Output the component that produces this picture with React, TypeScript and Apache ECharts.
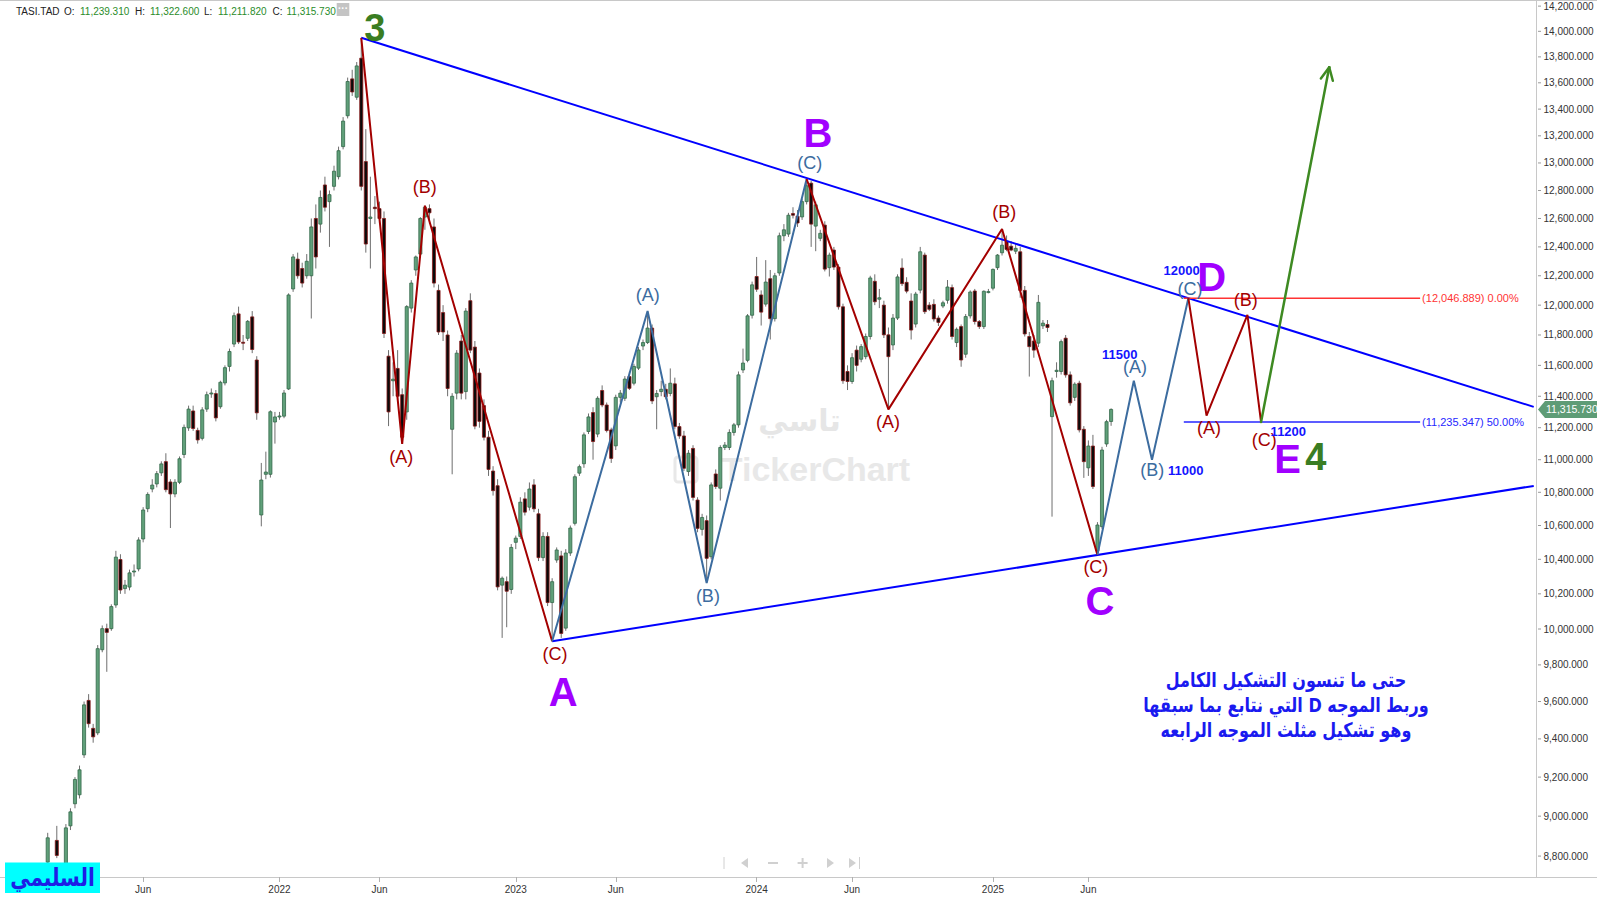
import React, { useEffect, useRef } from "react";
import * as echarts from "echarts";

// ---------- categories (weekly) ----------
const WEEK_COUNT = 338;
const FIRST_WEEK_UTC = Date.UTC(2020, 10, 1);
const LAST_DATA_INDEX = 244;
const weekDates: string[] = [];
for (let i = 0; i < WEEK_COUNT; i++) {
  weekDates.push(new Date(FIRST_WEEK_UTC + i * 7 * 86400000).toISOString().slice(0, 10));
}

// ---------- weekly candles: [weekIndex, open, high, low, close] ----------
const candles2021 = [
  [10, 8770, 8916, 8740, 8891], [12, 8878, 8951, 8790, 8803], [14, 8740, 8960, 8720, 8941],
  [15, 8951, 9040, 8930, 9022], [16, 9063, 9200, 9040, 9188], [17, 9109, 9260, 9090, 9238],
  [18, 9316, 9600, 9300, 9582], [19, 9606, 9640, 9460, 9481], [20, 9456, 9480, 9380, 9411],
  [21, 9432, 9910, 9420, 9890], [22, 9884, 10020, 9870, 10002], [23, 10002, 10030, 9762, 9981],
  [24, 10002, 10140, 9990, 10127], [25, 10136, 10450, 10120, 10413], [26, 10399, 10430, 10200, 10222],
  [27, 10230, 10280, 10200, 10250], [28, 10239, 10340, 10220, 10321], [29, 10328, 10370, 10300, 10332],
  [30, 10344, 10530, 10330, 10514], [31, 10520, 10710, 10500, 10693], [32, 10701, 10800, 10680, 10787],
  [33, 10820, 10880, 10800, 10844], [34, 10851, 10930, 10830, 10914], [35, 10919, 10990, 10900, 10974],
  [36, 10988, 11040, 10800, 10816], [37, 10863, 10880, 10585, 10790], [38, 10790, 10880, 10770, 10861],
  [39, 10861, 11020, 10850, 11006], [40, 11032, 11220, 11010, 11202], [41, 11199, 11340, 11180, 11318],
  [42, 11306, 11340, 11180, 11195], [43, 11183, 11200, 11100, 11123], [44, 11133, 11330, 11120, 11313],
  [45, 11318, 11430, 11300, 11410], [46, 11418, 11450, 11390, 11421], [47, 11417, 11440, 11240, 11262],
  [48, 11333, 11500, 11320, 11490], [49, 11486, 11600, 11470, 11585], [50, 11593, 11710, 11560, 11691],
  [51, 11740, 11950, 11720, 11929], [52, 11941, 11990, 11740, 11754], [53, 11752, 11800, 11700, 11749],
  [54, 11778, 11900, 11760, 11891], [55, 11921, 11960, 11680, 11704], [56, 11635, 11660, 11250, 11294],
  [57, 10663, 10980, 10595, 10875], [58, 10910, 11050, 10880, 10924], [59, 10910, 11310, 10890, 11301],
  [60, 11236, 11300, 11100, 11268], [61, 11270, 11300, 11250, 11274],
];
const candles2022 = [
  [62, 11273, 11440, 11260, 11421], [63, 11447, 12080, 11440, 12069], [64, 12110, 12350, 12090, 12330],
  [65, 12315, 12360, 12180, 12200], [66, 12250, 12290, 12120, 12150], [67, 12200, 12350, 12180, 12300],
  [68, 12200, 12600, 11910, 12540], [69, 12600, 12700, 12250, 12330], [70, 12560, 12800, 12500, 12750],
  [71, 12840, 12900, 12650, 12680], [72, 12720, 12800, 12400, 12770], [73, 12830, 12980, 12800, 12940],
  [74, 12900, 13120, 12880, 13090], [75, 13120, 13340, 13100, 13310], [76, 13350, 13640, 13330, 13610],
  [77, 13630, 13700, 13500, 13530], [78, 13490, 13760, 13470, 13730], [79, 13790, 13949, 12800, 12830],
  [80, 13010, 13250, 12360, 12420], [81, 12600, 12900, 12250, 12610], [82, 12680, 12760, 12560, 12670],
  [83, 12670, 12720, 12560, 12600], [84, 12600, 12650, 11780, 11810], [85, 11660, 11700, 11210, 11300],
  [86, 11500, 11620, 11400, 11510], [87, 11580, 11700, 11380, 11400], [88, 11410, 11450, 11098, 11140],
  [89, 11300, 12000, 11250, 11990], [90, 11980, 12170, 11950, 12150], [91, 12240, 12340, 12200, 12330],
  [92, 12350, 12610, 12330, 12600], [93, 12610, 12691, 12520, 12680], [94, 12670, 12700, 12560, 12640],
  [95, 12540, 12600, 12120, 12150], [96, 12100, 12140, 11800, 11820], [97, 11950, 12000, 11760, 11820],
  [98, 11800, 11830, 11400, 11450], [99, 11190, 11420, 10910, 11400], [100, 11420, 11700, 11380, 11680],
  [101, 11760, 11800, 11380, 11420], [102, 11430, 11980, 11380, 11960], [103, 12030, 12080, 11680, 11700],
  [104, 11720, 11760, 11190, 11210], [105, 11550, 11580, 11200, 11240], [106, 11340, 11380, 11120, 11140],
  [107, 11140, 11180, 10900, 10940], [108, 10930, 10960, 10780, 10810], [109, 10840, 10880, 10220, 10240],
  [110, 10250, 10300, 9950, 10290], [111, 10270, 10300, 10010, 10215], [112, 10225, 10490, 10200, 10470],
];
const candles2023 = [
  [113, 10500, 10540, 10460, 10525], [114, 10535, 10770, 10520, 10740], [115, 10760, 10800, 10660, 10680],
  [116, 10710, 10860, 10690, 10820], [117, 10845, 10880, 10680, 10700], [118, 10670, 10700, 10390, 10410],
  [119, 10410, 10560, 10390, 10535], [120, 10535, 10560, 10130, 10150], [121, 10150, 10290, 9931, 10270],
  [122, 10396, 10470, 10380, 10455], [123, 10420, 10450, 9950, 9975], [124, 10005, 10460, 9990, 10437],
  [125, 10437, 10600, 10420, 10585], [126, 10613, 10910, 10600, 10895], [127, 10917, 10970, 10900, 10957],
  [128, 10975, 11170, 10950, 11155], [129, 11176, 11290, 11160, 11268], [130, 11296, 11330, 11000, 11113],
  [131, 11160, 11400, 11140, 11387], [132, 11437, 11470, 11330, 11344], [133, 11344, 11360, 11170, 11182],
  [134, 11186, 11200, 10980, 11008], [135, 11086, 11410, 11060, 11393], [136, 11393, 11440, 11360, 11420],
  [137, 11387, 11530, 11370, 11511], [138, 11527, 11560, 11440, 11451], [139, 11484, 11610, 11470, 11593],
  [140, 11582, 11720, 11570, 11701], [141, 11727, 11770, 11700, 11750], [142, 11750, 11960, 11740, 11846],
  [143, 11846, 11870, 11350, 11370], [144, 11397, 11440, 11190, 11418], [145, 11430, 11500, 11400, 11445],
  [146, 11445, 11480, 11380, 11397], [147, 11418, 11580, 11400, 11484], [148, 11480, 11520, 11190, 11207],
  [149, 11207, 11230, 11130, 11148], [150, 11148, 11180, 10930, 10947], [151, 10927, 11060, 10900, 11040],
  [152, 11070, 11090, 10750, 10769], [153, 10753, 10770, 10560, 10583], [154, 10577, 10670, 10540, 10648],
  [155, 10629, 10660, 10262, 10406], [156, 10415, 10860, 10400, 10845], [157, 10912, 10940, 10820, 10835],
  [158, 10825, 11090, 10750, 11076], [159, 11076, 11110, 11060, 11091], [160, 11076, 11190, 11060, 11170],
  [161, 11170, 11230, 11150, 11218], [162, 11218, 11560, 11200, 11538], [163, 11570, 11710, 11550, 11615],
  [164, 11633, 11940, 11620, 11928],
];
const candles2024 = [
  [165, 11932, 12160, 11910, 12138], [166, 12195, 12330, 12090, 12108], [167, 12069, 12100, 11863, 11953],
  [168, 12007, 12308, 11990, 12157], [169, 12180, 12240, 11770, 11909], [170, 11909, 12220, 11890, 12200],
  [171, 12219, 12500, 12200, 12478], [172, 12478, 12560, 12440, 12520], [173, 12490, 12640, 12470, 12623],
  [174, 12635, 12680, 12600, 12623], [175, 12616, 12660, 12540, 12568], [176, 12611, 12740, 12590, 12720],
  [177, 12720, 12883, 12700, 12834], [178, 12853, 12870, 12400, 12560], [179, 12546, 12720, 12370, 12697],
  [180, 12460, 12520, 12440, 12495], [181, 12553, 12580, 12230, 12246], [182, 12256, 12360, 12195, 12343],
  [183, 12378, 12400, 12240, 12260], [184, 12260, 12280, 11970, 11989], [185, 11989, 12010, 11480, 11500],
  [186, 11560, 11600, 11440, 11495], [187, 11495, 11680, 11480, 11650], [188, 11700, 11730, 11560, 11600],
  [189, 11640, 11740, 11620, 11723], [190, 11657, 11810, 11640, 11790], [191, 11790, 12200, 11770, 12185],
  [192, 12162, 12210, 12000, 12023], [193, 12040, 12110, 11980, 12050], [194, 12000, 12030, 11780, 11801],
  [195, 11801, 11850, 11316, 11657], [196, 11734, 11940, 11700, 11913], [197, 11913, 12210, 11900, 12192],
  [198, 12253, 12320, 12130, 12146], [199, 12155, 12190, 12080, 12095], [200, 12028, 12080, 11770, 11833],
  [201, 11873, 12090, 11850, 12075], [202, 12102, 12400, 12080, 12366], [203, 12343, 12360, 11940, 11956],
  [204, 12000, 12020, 11960, 11972], [205, 12005, 12040, 11890, 11907], [206, 11913, 11930, 11860, 11884],
  [207, 11994, 12030, 11980, 12016], [208, 12033, 12171, 12010, 12123], [209, 12119, 12140, 11770, 11790],
  [210, 11750, 11850, 11720, 11838], [211, 11856, 11870, 11591, 11635], [212, 11673, 11940, 11650, 11923],
  [213, 11928, 12100, 11910, 12089], [214, 12096, 12110, 11870, 11890], [215, 11890, 11900, 11840, 11856],
  [216, 11856, 12100, 11840, 12094],
];
const candles2025 = [
  [217, 12090, 12110, 12080, 12092], [218, 12115, 12250, 12100, 12244], [219, 12256, 12350, 12240, 12343],
  [220, 12359, 12525, 12340, 12412], [221, 12435, 12480, 12370, 12382], [222, 12405, 12440, 12370, 12378],
  [223, 12370, 12420, 12350, 12390], [224, 12366, 12400, 12050, 12100], [225, 12100, 12130, 11790, 11807],
  [226, 11790, 11820, 11527, 11723], [227, 11760, 11800, 11650, 11700], [228, 11746, 12069, 11720, 12019],
  [229, 11861, 11900, 11840, 11879], [230, 11870, 11900, 11820, 11850], [231, 11270, 11520, 10653, 11500],
  [232, 11560, 11620, 11520, 11568], [233, 11560, 11770, 11540, 11756], [234, 11779, 11800, 11520, 11538],
  [235, 11538, 11560, 11340, 11358], [236, 11393, 11490, 11370, 11478], [237, 11484, 11500, 11170, 11186],
  [238, 11190, 11210, 10888, 10988], [239, 10950, 11120, 10900, 11085], [240, 11085, 11155, 10820, 10835],
  [241, 10450, 10620, 10426, 10603], [242, 10593, 11080, 10580, 11060], [243, 11098, 11250, 11080, 11238],
  [244, 11239.31, 11322.6, 11211.82, 11315.73],
];

// ---------- axis ticks ----------
const priceTicks = [
  14200, 14000, 13800, 13600, 13400, 13200, 13000, 12800, 12600, 12400, 12200, 12000, 11800, 11600,
  11400, 11200, 11000, 10800, 10600, 10400, 10200, 10000, 9800, 9600, 9400, 9200, 9000, 8800,
];
const Y_MIN = 8697;
const Y_MAX = 14249;

// ---------- annotations (weekIndex, price) ----------
const upperTrendLine = [[79, 13949], [337, 11332]];
const lowerTrendLine = [[121, 9931], [337, 10839]];
const waveRed1 = [[79, 13949], [88, 11098], [93, 12691], [121, 9931]];
const waveBlue1 = [[121, 9931], [142, 11960], [155, 10262], [177, 12883]];
const waveRed2 = [[177, 12883], [195, 11316], [220, 12525], [241, 10426]];
const waveBlue2 = [[241, 10426], [249, 11500], [253, 11000], [261, 12046.889]];
const waveRed3 = [[261, 12046.889], [265, 11276], [274, 11934], [277, 11235.347]];
const greenArrow = [[277, 11235.347, 292, 13720]];
const fibZero = [[260, 12046.889], [312, 12046.889]];
const fibHalf = [[260, 11235.347], [312, 11235.347]];
const lastQuote = { open: 11239.31, high: 11322.6, low: 11211.82, close: 11315.73 };

const noteLines = [
  "حتى ما تنسون التشكيل الكامل",
  "وربط الموجه D التي نتابع بما سبقها",
  "وهو تشكيل مثلث الموجه الرابعه",
];

const waveLabels = [
  { x: 81.97, y: 14030, text: "3", kind: "degree" },
  { x: 87.81, y: 11016, text: "(A)", kind: "red" },
  { x: 92.96, y: 12823, text: "(B)", kind: "red" },
  { x: 121.63, y: 9863, text: "(C)", kind: "red" },
  { x: 123.43, y: 9650, text: "A", kind: "purple" },
  { x: 142.05, y: 12067, text: "(A)", kind: "steel" },
  { x: 155.27, y: 10190, text: "(B)", kind: "steel" },
  { x: 177.67, y: 13000, text: "(C)", kind: "steel" },
  { x: 179.48, y: 13218, text: "B", kind: "purple" },
  { x: 194.93, y: 11239, text: "(A)", kind: "red" },
  { x: 220.48, y: 12647, text: "(B)", kind: "red" },
  { x: 240.65, y: 10355, text: "(C)", kind: "red" },
  { x: 241.56, y: 10161, text: "C", kind: "purple" },
  { x: 245.9, y: 11673, text: "11500", kind: "num" },
  { x: 249.26, y: 11587, text: "(A)", kind: "steel" },
  { x: 253.07, y: 10936, text: "(B)", kind: "steel" },
  { x: 260.41, y: 10936, text: "11000", kind: "num" },
  { x: 259.5, y: 12235, text: "12000", kind: "num" },
  { x: 266.13, y: 12194, text: "D", kind: "purple" },
  { x: 261.36, y: 12107, text: "(C)", kind: "steel" },
  { x: 273.62, y: 12035, text: "(B)", kind: "red" },
  { x: 265.54, y: 11196, text: "(A)", kind: "red" },
  { x: 277.7, y: 11123, text: "(C)", kind: "red" },
  { x: 283.0, y: 11179, text: "11200", kind: "num" },
  { x: 282.86, y: 11003, text: "E", kind: "purple" },
  { x: 289.02, y: 11015, text: "4", kind: "degree" },
];

// ---------- styles ----------
const SANS = '"Liberation Sans", Arial, sans-serif';
const ARABIC = '"DejaVu Sans", "Noto Sans", sans-serif';
const RED = "#a30000";
const STEEL = "#3c6c9f";
const PURPLE = "#a100ff";
const GREEN = "#3a7d22";
const NUM_BLUE = "#1414ff";
const TRI_BLUE = "#0000ff";
const UP_FILL = "#60a07a";
const UP_EDGE = "#33684a";
const DOWN_FILL = "#0a0a0a";
const DOWN_EDGE = "#8b1a1a";
const WICK = "#6e6e6e";
const AXIS_GRAY = "#c8c8c8";

const labelStyles: Record<string, any> = {
  degree: { fontSize: 38, fontWeight: "bold", fill: GREEN },
  purple: { fontSize: 40, fontWeight: "bold", fill: PURPLE },
  red: { fontSize: 18, fontWeight: "normal", fill: RED },
  steel: { fontSize: 18, fontWeight: "normal", fill: STEEL },
  num: { fontSize: 13, fontWeight: "bold", fill: NUM_BLUE },
};

const fmt3 = (v: number) =>
  v.toLocaleString("en-US", { minimumFractionDigits: 3, maximumFractionDigits: 3 });

const rtl = (s: string) => "\u202B" + s + "\u202C";

const labelSet = new Set<number>();
for (let i = 1; i <= LAST_DATA_INDEX; i++) {
  const m = weekDates[i].slice(5, 7);
  const pm = weekDates[i - 1].slice(5, 7);
  if (m !== pm && (m === "01" || m === "06")) labelSet.add(i);
}

function buildOption() {
  const candleData = [...candles2021, ...candles2022, ...candles2023, ...candles2024, ...candles2025];

  const lineSeries = (data: number[][], color: string, width: number, z: number) => ({
    type: "line",
    data,
    symbol: "none",
    showSymbol: false,
    silent: true,
    z,
    lineStyle: { color, width },
  });

  const fibSeries = (data: number[][], color: string, text: string) => ({
    type: "line",
    data,
    symbol: "none",
    showSymbol: false,
    silent: true,
    z: 4,
    lineStyle: { color, width: 1.5 },
    endLabel: {
      show: true,
      formatter: text,
      color,
      fontSize: 11,
      fontFamily: SANS,
      distance: 2,
    },
  });

  const headerParts = [
    { x: 16, text: "TASI.TAD", fill: "#222" },
    { x: 64, text: "O:", fill: "#222" },
    { x: 80, text: fmt3(lastQuote.open), fill: "#2a8c2a" },
    { x: 135, text: "H:", fill: "#222" },
    { x: 150, text: fmt3(lastQuote.high), fill: "#2a8c2a" },
    { x: 204, text: "L:", fill: "#222" },
    { x: 218, text: fmt3(lastQuote.low), fill: "#2a8c2a" },
    { x: 272.5, text: "C:", fill: "#222" },
    { x: 286.5, text: fmt3(lastQuote.close), fill: "#2a8c2a" },
  ];

  const navGray = "#d0d0d0";
  const graphic: any[] = [
    { type: "line", z: 50, shape: { x1: 0, y1: 0.5, x2: 1597, y2: 0.5 }, style: { stroke: AXIS_GRAY, lineWidth: 1 } },
    { type: "line", z: 50, shape: { x1: 1536, y1: 877.5, x2: 1597, y2: 877.5 }, style: { stroke: AXIS_GRAY, lineWidth: 1 } },
    // watermark
    { type: "text", z: 0, x: 799.5, y: 420.5, style: { text: "تاسي", fill: "#e6e6e6", fontSize: 30, fontWeight: "bold", fontFamily: ARABIC, align: "center", verticalAlign: "middle" } },
    { type: "rect", z: 0, shape: { x: 675, y: 457, width: 22, height: 25, r: 3 }, style: { fill: "none", stroke: "#e8e8e8", lineWidth: 3 } },
    { type: "text", z: 0, x: 816, y: 469, style: { text: "TickerChart", fill: "#e8e8e8", fontSize: 34, fontWeight: "bold", fontFamily: SANS, align: "center", verticalAlign: "middle" } },
    // author box
    { type: "rect", z: 100, shape: { x: 5, y: 862.5, width: 95, height: 30.5 }, style: { fill: "#00ffff" } },
    { type: "text", z: 101, x: 52.5, y: 877.5, scaleX: 0.8, style: { text: rtl("السليمي"), fill: "#1e1ee6", fontSize: 25, fontWeight: "bold", fontFamily: ARABIC, align: "center", verticalAlign: "middle" } },
    // navigation icons
    { type: "line", z: 50, shape: { x1: 724, y1: 857, x2: 724, y2: 869 }, style: { stroke: navGray, lineWidth: 1 } },
    { type: "polygon", z: 50, shape: { points: [[741, 863], [748, 858], [748, 868]] }, style: { fill: navGray } },
    { type: "line", z: 50, shape: { x1: 768, y1: 863, x2: 778, y2: 863 }, style: { stroke: navGray, lineWidth: 2 } },
    { type: "line", z: 50, shape: { x1: 797.6, y1: 863, x2: 807.6, y2: 863 }, style: { stroke: navGray, lineWidth: 2 } },
    { type: "line", z: 50, shape: { x1: 802.6, y1: 858, x2: 802.6, y2: 868 }, style: { stroke: navGray, lineWidth: 2 } },
    { type: "polygon", z: 50, shape: { points: [[834, 863], [827, 858], [827, 868]] }, style: { fill: navGray } },
    { type: "polygon", z: 50, shape: { points: [[856, 863], [849, 858], [849, 868]] }, style: { fill: navGray } },
    { type: "line", z: 50, shape: { x1: 859.5, y1: 857, x2: 859.5, y2: 869 }, style: { stroke: navGray, lineWidth: 1 } },
    // header dots box
    { type: "rect", z: 100, shape: { x: 336.7, y: 3, width: 12.6, height: 13 }, style: { fill: "#c4c4c4" } },
    { type: "text", z: 101, x: 343, y: 8.5, style: { text: "···", fill: "#ffffff", fontSize: 10, fontWeight: "bold", fontFamily: SANS, align: "center", verticalAlign: "middle" } },
  ];
  noteLines.forEach((t, i) =>
    graphic.push({
      type: "text",
      z: 60,
      x: 1286,
      y: 680 + i * 25,
      scaleX: 0.8,
      style: { text: rtl(t), fill: "#1a1af0", fontSize: 20, fontWeight: "bold", fontFamily: ARABIC, align: "center", verticalAlign: "middle" },
    })
  );
  headerParts.forEach((p) =>
    graphic.push({
      type: "text",
      z: 100,
      x: p.x,
      y: 11,
      style: { text: p.text, fill: p.fill, fontSize: 10, fontFamily: SANS, align: "left", verticalAlign: "middle" },
    })
  );

  return {
    animation: false,
    backgroundColor: "#ffffff",
    grid: { left: 0, right: 61, top: 0, bottom: 22, containLabel: false, outerBoundsMode: "none" },
    xAxis: {
      type: "category",
      data: weekDates,
      boundaryGap: true,
      axisLine: { show: true, lineStyle: { color: AXIS_GRAY, width: 1 } },
      axisTick: {
        show: true,
        alignWithLabel: true,
        interval: (i: number) => labelSet.has(i),
        length: 5,
        lineStyle: { color: "#b0b0b0" },
      },
      axisLabel: {
        show: true,
        interval: (i: number) => labelSet.has(i),
        formatter: (v: string) => (v.slice(5, 7) === "01" ? v.slice(0, 4) : "Jun"),
        color: "#333",
        fontSize: 10,
        fontFamily: SANS,
        margin: 7,
      },
      splitLine: { show: false },
    },
    yAxis: {
      type: "log",
      logBase: 10,
      min: Y_MIN,
      max: Y_MAX,
      position: "right",
      axisLine: { show: true, lineStyle: { color: AXIS_GRAY, width: 1 } },
      axisTick: { show: false },
      axisLabel: { show: false },
      splitLine: { show: false },
    },
    graphic,
    series: [
      {
        type: "custom",
        name: "TASI",
        z: 2,
        clip: true,
        silent: true,
        encode: { x: 0, y: [1, 2, 3, 4] },
        data: candleData,
        renderItem: (params: any, api: any) => {
          const idx = api.value(0);
          const o = api.value(1);
          const h = api.value(2);
          const l = api.value(3);
          const c = api.value(4);
          const pO = api.coord([idx, o]);
          const yC = api.coord([idx, c])[1];
          const yH = api.coord([idx, h])[1];
          const yL = api.coord([idx, l])[1];
          const x = pO[0];
          const band = api.size([1, 0])[0];
          const w = Math.max(1, band * 0.68);
          const up = c >= o;
          const top = Math.min(pO[1], yC);
          const hgt = Math.max(1, Math.abs(pO[1] - yC));
          return {
            type: "group",
            children: [
              { type: "line", shape: { x1: x, y1: yH, x2: x, y2: yL }, style: { stroke: WICK, lineWidth: 1 } },
              {
                type: "rect",
                shape: { x: x - w / 2, y: top, width: w, height: hgt },
                style: { fill: up ? UP_FILL : DOWN_FILL, stroke: up ? UP_EDGE : DOWN_EDGE, lineWidth: 0.8 },
              },
            ],
          };
        },
      },
      lineSeries(upperTrendLine, TRI_BLUE, 2, 3),
      lineSeries(lowerTrendLine, TRI_BLUE, 2, 3),
      fibSeries(fibZero, "#ff3333", "(12,046.889) 0.00%"),
      fibSeries(fibHalf, "#2626ff", "(11,235.347) 50.00%"),
      lineSeries(waveRed1, RED, 2, 5),
      lineSeries(waveBlue1, STEEL, 2, 5),
      lineSeries(waveRed2, RED, 2, 5),
      lineSeries(waveBlue2, STEEL, 2, 5),
      lineSeries(waveRed3, RED, 2, 5),
      {
        type: "custom",
        z: 6,
        silent: true,
        clip: false,
        encode: { x: [0, 2], y: [1, 3] },
        data: greenArrow,
        renderItem: (params: any, api: any) => {
          const p1 = api.coord([api.value(0), api.value(1)]);
          const p2 = api.coord([api.value(2), api.value(3)]);
          const ang = Math.atan2(p2[1] - p1[1], p2[0] - p1[0]);
          const L = 14;
          const a1 = ang + Math.PI - 0.45;
          const a2 = ang + Math.PI + 0.45;
          const st = { stroke: "#3e8a22", lineWidth: 2.5, lineCap: "round" };
          return {
            type: "group",
            children: [
              { type: "line", shape: { x1: p1[0], y1: p1[1], x2: p2[0], y2: p2[1] }, style: st },
              { type: "line", shape: { x1: p2[0], y1: p2[1], x2: p2[0] + L * Math.cos(a1), y2: p2[1] + L * Math.sin(a1) }, style: st },
              { type: "line", shape: { x1: p2[0], y1: p2[1], x2: p2[0] + L * Math.cos(a2), y2: p2[1] + L * Math.sin(a2) }, style: st },
            ],
          };
        },
      },
      {
        type: "custom",
        z: 8,
        silent: true,
        clip: false,
        encode: { x: 0, y: 1 },
        data: waveLabels.map((l) => [Math.floor(l.x), l.y]),
        renderItem: (params: any, api: any) => {
          const def = waveLabels[params.dataIndex];
          const p = api.coord([api.value(0), api.value(1)]);
          const band = api.size([1, 0])[0];
          const x = p[0] + (def.x - Math.floor(def.x)) * band;
          const s = labelStyles[def.kind];
          return {
            type: "text",
            x,
            y: p[1],
            style: {
              text: def.text,
              fill: s.fill,
              fontSize: s.fontSize,
              fontWeight: s.fontWeight,
              fontFamily: SANS,
              align: "center",
              verticalAlign: "middle",
            },
          };
        },
      },
      {
        type: "custom",
        z: 8,
        silent: true,
        clip: false,
        encode: { x: 0, y: 1 },
        data: priceTicks.map((v) => [0, v]),
        renderItem: (params: any, api: any) => {
          const v = api.value(1);
          const y = api.coord([0, v])[1];
          const cs = params.coordSys;
          const x0 = cs.x + cs.width;
          return {
            type: "group",
            children: [
              { type: "line", shape: { x1: x0 + 2, y1: y, x2: x0 + 5, y2: y }, style: { stroke: "#9a9a9a", lineWidth: 1 } },
              {
                type: "text",
                x: x0 + 7.5,
                y,
                style: { text: fmt3(v), fill: "#333", fontSize: 10, fontFamily: SANS, align: "left", verticalAlign: "middle" },
              },
            ],
          };
        },
      },
      {
        type: "custom",
        z: 9,
        silent: true,
        clip: false,
        encode: { x: 0, y: 1 },
        data: [[LAST_DATA_INDEX, lastQuote.close]],
        renderItem: (params: any, api: any) => {
          const y = api.coord([api.value(0), api.value(1)])[1];
          const cs = params.coordSys;
          const x0 = cs.x + cs.width;
          return {
            type: "group",
            children: [
              {
                type: "polygon",
                shape: { points: [[x0 + 2, y], [x0 + 9, y - 8.5], [1597, y - 8.5], [1597, y + 8.5], [x0 + 9, y + 8.5]] },
                style: { fill: "#5e9c76" },
              },
              {
                type: "text",
                x: x0 + 10,
                y,
                style: { text: fmt3(api.value(1)), fill: "#ffffff", fontSize: 10.5, fontFamily: SANS, align: "left", verticalAlign: "middle" },
              },
            ],
          };
        },
      },
    ],
  };
}

export default function App() {
  const ref = useRef<HTMLDivElement>(null);
  useEffect(() => {
    if (!ref.current) return;
    const chart = echarts.init(ref.current, null, { renderer: "svg" });
    chart.setOption(buildOption() as any);
    return () => chart.dispose();
  }, []);
  return (
    <div
      ref={ref}
      style={{ position: "fixed", left: 0, top: 0, width: 1597, height: 899, background: "#fff" }}
    />
  );
}
